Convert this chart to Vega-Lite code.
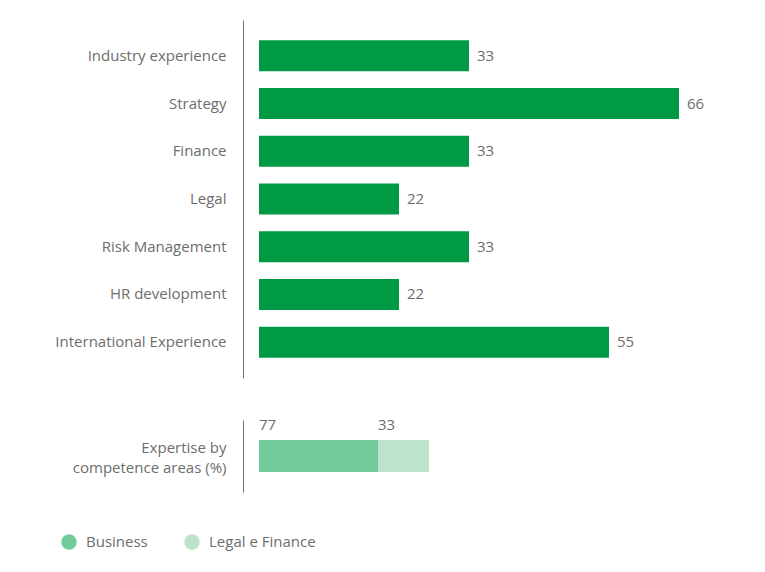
{
  "$schema": "https://vega.github.io/schema/vega-lite/v6.json",
  "background": "white",
  "padding": {"left": 54, "top": 20, "right": 5, "bottom": 5},
  "spacing": 40,
  "config": {
    "view": {"stroke": null},
    "font": "Open Sans",
    "text": {"font": "Open Sans", "fontSize": 15, "color": "#6d6d6d"}
  },
  "vconcat": [
    {
      "width": 420,
      "height": 358,
      "data": {
        "values": [
          {"skill": "Industry experience", "value": 33},
          {"skill": "Strategy", "value": 66},
          {"skill": "Finance", "value": 33},
          {"skill": "Legal", "value": 22},
          {"skill": "Risk Management", "value": 33},
          {"skill": "HR development", "value": 22},
          {"skill": "International Experience", "value": 55}
        ]
      },
      "encoding": {
        "y": {
          "field": "skill",
          "type": "nominal",
          "sort": null,
          "scale": {"paddingInner": 0.35, "paddingOuter": 0.425},
          "axis": {
            "title": null,
            "domainColor": "#707070",
            "ticks": false,
            "offset": 16,
            "labelPadding": 17,
            "labelFontSize": 15,
            "labelColor": "#6d6d6d",
            "labelFont": "Open Sans"
          }
        },
        "x": {
          "field": "value",
          "type": "quantitative",
          "scale": {"domain": [0, 66], "nice": false},
          "axis": null
        }
      },
      "layer": [
        {"mark": {"type": "bar", "color": "#009a44"}},
        {
          "mark": {"type": "text", "align": "left", "dx": 8},
          "encoding": {"text": {"field": "value", "type": "quantitative"}}
        }
      ]
    },
    {
      "width": 170,
      "height": 72,
      "data": {
        "values": [
          {"area": "Expertise by|competence areas (%)", "group": "Business", "value": 77},
          {"area": "Expertise by|competence areas (%)", "group": "Legal e Finance", "value": 33}
        ]
      },
      "transform": [
        {"stack": "value", "groupby": ["area"], "sort": [{"field": "group", "order": "ascending"}], "as": ["x0", "x1"]}
      ],
      "encoding": {
        "y": {
          "field": "area",
          "type": "nominal",
          "scale": {"paddingInner": 0, "paddingOuter": 0.625},
          "axis": {
            "title": null,
            "domainColor": "#707070",
            "ticks": false,
            "offset": 16,
            "labelPadding": 17,
            "labelFontSize": 15,
            "labelColor": "#6d6d6d",
            "labelFont": "Open Sans",
            "labelLineHeight": 20,
            "labelOffset": -8,
            "labelExpr": "split(datum.label, '|')"
          }
        },
        "x": {
          "field": "x0",
          "type": "quantitative",
          "scale": {"domain": [0, 110], "nice": false},
          "axis": null
        }
      },
      "layer": [
        {
          "mark": {"type": "bar"},
          "encoding": {
            "x2": {"field": "x1"},
            "color": {
              "field": "group",
              "type": "nominal",
              "scale": {"domain": ["Business", "Legal e Finance"], "range": ["#72cb98", "#bde3cc"]},
              "legend": {
                "title": null,
                "orient": "none",
                "legendX": -198,
                "legendY": 514,
                "direction": "horizontal",
                "symbolType": "circle",
                "symbolSize": 240,
                "symbolStrokeWidth": 0,
                "labelFontSize": 15,
                "labelColor": "#6d6d6d",
                "labelFont": "Open Sans",
                "labelOffset": 9,
                "columnPadding": 36
              }
            }
          }
        },
        {
          "mark": {"type": "text", "align": "left", "dy": -31},
          "encoding": {"text": {"field": "value", "type": "quantitative"}}
        }
      ]
    }
  ]
}
